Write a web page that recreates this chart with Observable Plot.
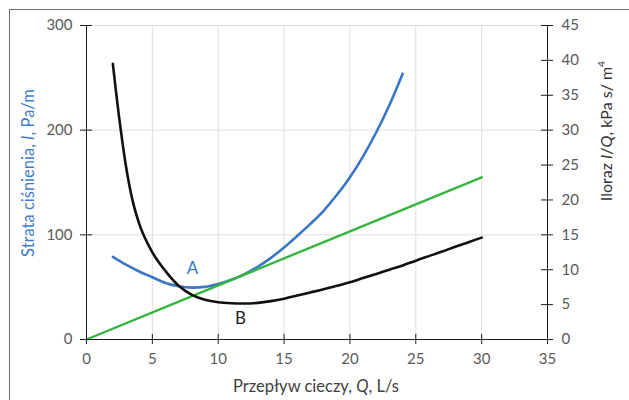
<!DOCTYPE html>
<html>
<head>
<meta charset="utf-8">
<script src="https://cdn.jsdelivr.net/npm/d3@7"></script>
<script src="https://cdn.jsdelivr.net/npm/@observablehq/plot@0.6"></script>
<style>
  html, body { margin: 0; padding: 0; background: #fff; overflow: hidden; }
  #wrap { position: relative; width: 629px; height: 400px; }
  #frame { position: absolute; left: 9px; top: 9px; width: 660px; height: 440px;
           border: 1.5px solid #6f6f6f; pointer-events: none; }
</style>
</head>
<body>
<div id="wrap"><div id="frame"></div></div>
<script>
// Curve A: pressure loss I (Pa/m) vs flow Q (L/s) — left axis
const qA = [2,3,4,5,6,7,8,9,10,11,12,13,14,15,16,17,18,19,20,21,22,23,24];
const iA = [79,71.5,65,59.5,54,50.8,49.6,50.3,53,57,62.5,69.5,78,88,99,110.5,123,138,155,175,198,224,254];
// Curve B: ratio I/Q (kPa s/m^4) — right axis
const qB = [2,2.5,3,3.5,4,5,6,7,8,9,10,11,12,13,14,15,16,17,18,19,20,21,22,23,24,25,26,27,28,29,30];
const rB = [39.5,31.5,24.8,19.9,16.6,12.5,9.8,7.7,6.4,5.7,5.35,5.2,5.15,5.25,5.5,5.85,6.3,6.75,7.2,7.7,8.2,8.8,9.4,10.0,10.6,11.3,11.95,12.6,13.3,13.95,14.6];
// Tangent line through origin — left axis
const qG = [0, 30];
const iG = [0, 155];
// Ticks
const xTicks = [0,5,10,15,20,25,30,35];
const yLeftTicks = [0,100,200,300];
const yRightTicks = [0,5,10,15,20,25,30,35,40,45];
// Curve labels
const labels = [{q: 8.05, i: 68, text: "A"}, {q: 11.7, i: 20, text: "B"}];

const leftMax = 300, rightMax = 45;
const toLeft = r => r * leftMax / rightMax;

const A = qA.map((q, k) => ({q, i: iA[k]}));
const B = qB.map((q, k) => ({q, r: rB[k]}));
const G = qG.map((q, k) => ({q, i: iG[k]}));

const W = 629, H = 400, mL = 86, mR = 82, mT = 25, mB = 61;
const pw = W - mL - mR, ph = H - mT - mB;
const font = "Lato, 'Open Sans', sans-serif";
const gridCol = "#e4dcdc", axisCol = "#1a1a1a", tickTextCol = "#595959";
const blue = "#3a76c6";

const chart = Plot.plot({
  width: W, height: H,
  marginLeft: mL, marginRight: mR, marginTop: mT, marginBottom: mB,
  x: {domain: [0, 35], axis: null},
  y: {domain: [0, leftMax], axis: null},
  style: {fontFamily: font, background: "transparent", overflow: "visible"},
  marks: [
    Plot.ruleX(xTicks.filter(d => d > 0 && d < 35), {x: d => d, stroke: gridCol, strokeWidth: 1}),
    Plot.ruleY(yLeftTicks.filter(d => d > 0), {y: d => d, stroke: gridCol, strokeWidth: 1}),
    Plot.line(A, {x: "q", y: "i", stroke: blue, strokeWidth: 2.6, curve: "monotone-x"}),
    Plot.line(G, {x: "q", y: "i", stroke: "#33b540", strokeWidth: 2.4}),
    Plot.line(B, {x: "q", y: d => toLeft(d.r), stroke: "#111", strokeWidth: 2.6, curve: "monotone-x"}),
    // axis lines
    Plot.ruleX([0, 35], {x: d => d, stroke: axisCol, strokeWidth: 1}),
    Plot.ruleY([0], {y: d => d, stroke: axisCol, strokeWidth: 1}),
    // tick marks
    Plot.ruleX(xTicks, {x: d => d, stroke: axisCol, insetTop: ph - 5, insetBottom: -5}),
    Plot.ruleY(yLeftTicks, {y: d => d, stroke: axisCol, insetLeft: -6, insetRight: pw - 6}),
    Plot.ruleY(yRightTicks, {y: d => toLeft(d), stroke: axisCol, insetLeft: pw - 6, insetRight: -6}),
    // tick labels
    Plot.text(xTicks, {x: d => d, y: 0, dy: 20, text: d => String(d), fill: tickTextCol, fontSize: 15}),
    Plot.text(yLeftTicks, {x: 0, y: d => d, dx: -14, text: d => String(d), textAnchor: "end", fill: tickTextCol, fontSize: 15}),
    Plot.text(yRightTicks, {x: 35, y: d => toLeft(d), dx: 14, text: d => String(d), textAnchor: "start", fill: tickTextCol, fontSize: 15}),
    // curve labels
    Plot.text(labels, {x: "q", y: "i", text: "text", fill: d => d.text === "A" ? blue : "#222", fontSize: 17})
  ]
});
document.getElementById("wrap").prepend(chart);

const svg = d3.select(chart);
function title(parts, x, y, rotate, color, size) {
  const t = svg.append("text")
    .attr("transform", `translate(${x},${y}) rotate(${rotate})`)
    .attr("text-anchor", "middle")
    .attr("dominant-baseline", "middle")
    .attr("fill", color)
    .attr("font-family", font)
    .attr("font-size", size);
  parts.forEach(([s, style]) => {
    const ts = t.append("tspan").text(s);
    ts.attr("font-style", style === 1 ? "italic" : "normal");
    if (style === 2) ts.attr("font-size", size * 0.65).attr("dy", -size * 0.4);
  });
}
title([["Przepływ cieczy, ", 0], ["Q", 1], [", L/s", 0]], 316, 388, 0, "#404040", 16.5);
title([["Strata ciśnienia, ", 0], ["I", 1], [", Pa/m", 0]], 30, 173, -90, "#3f7ccc", 16.5);
title([["Iloraz ", 0], ["I", 1], ["/", 0], ["Q", 1], [", kPa s/ m", 0], ["4", 2]], 608, 131, -90, "#333", 16);
</script>
</body>
</html>
